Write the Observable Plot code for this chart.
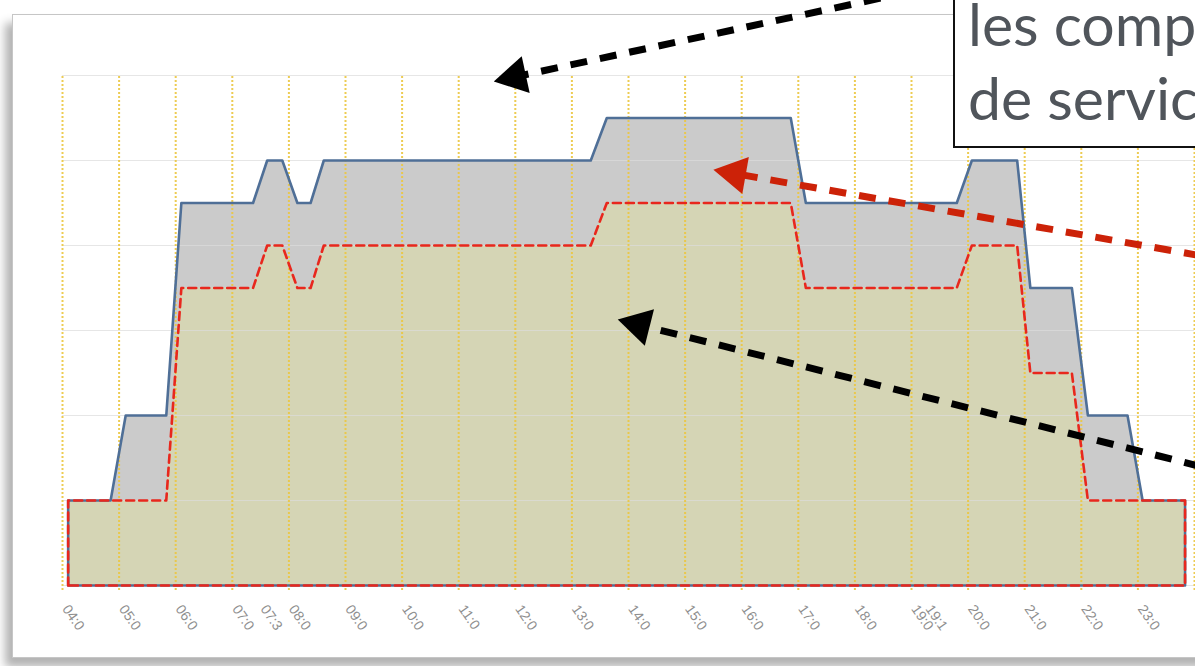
<!DOCTYPE html>
<html>
<head>
<meta charset="utf-8">
<script src="https://cdn.jsdelivr.net/npm/d3@7"></script>
<script src="https://cdn.jsdelivr.net/npm/@observablehq/plot@0.6"></script>
<style>
  html, body { margin: 0; padding: 0; background: #fff; }
  #wrap { position: relative; width: 1195px; height: 666px; overflow: hidden; background: #fff; }
  #frame { position: absolute; left: 12px; top: 14px; width: 1260px; height: 642px;
           border: 1px solid #c6c6c6; background: #fff;
           box-shadow: -7px 9px 9px rgba(0,0,0,0.30); }
  #chart { position: absolute; left: 0; top: 0; }
  #box { position: absolute; left: 953px; top: -20px; width: 420px; height: 164px;
         border: 2px solid #111; background: #fff; }
  #boxtext { position: absolute; left: 968px; top: -13px; font-family: Lato, "Open Sans", sans-serif;
             font-size: 59px; line-height: 74px; color: #50555b; white-space: nowrap; }
</style>
</head>
<body>
<div id="wrap">
  <div id="frame"></div>
  <div id="chart"></div>
  <div id="box"></div>
  <div id="boxtext">les comp<br>de servic</div>
</div>
<script>
// ---- data ----
const times    = ["04:06","04:06","04:51","05:07","05:50","06:06","07:22","07:37","07:53","08:09","08:23","08:37","13:20","13:37","16:52","17:08","19:48","20:04","20:52","21:06","21:50","22:07","22:49","23:05","23:50","23:50"];
const capacity = [0, 1, 1, 2, 2, 4.5, 4.5, 5, 5, 4.5, 4.5, 5, 5, 5.5, 5.5, 4.5, 4.5, 5, 5, 3.5, 3.5, 2, 2, 1, 1, 0];
const usage    = [0, 1, 1, 1, 1, 3.5, 3.5, 4, 4, 3.5, 3.5, 4, 4, 4.5, 4.5, 3.5, 3.5, 4, 4, 2.5, 2.5, 1, 1, 1, 1, 0];

const tickTimes  = ["04:00","05:00","06:00","07:00","07:30","08:00","09:00","10:00","11:00","12:00","13:00","14:00","15:00","16:00","17:00","18:00","19:00","19:15","20:00","21:00","22:00","23:00"];
const tickLabels = ["04:0","05:0","06:0","07:0","07:3","08:0","09:0","10:0","11:0","12:0","13:0","14:0","15:0","16:0","17:0","18:0","19:0","19:1","20:0","21:0","22:0","23:0"];
const gridTimes  = ["04:00","05:00","06:00","07:00","08:00","09:00","10:00","11:00","12:00","13:00","14:00","15:00","16:00","17:00","18:00","19:00","20:00","21:00","22:00","23:00","24:00"];
const levels     = [0, 1, 2, 3, 4, 5, 6];

// annotation arrows (data space: hours, level): start -> tip
const arrowStartX = [18.45, 24.11, 24.11];
const arrowStartY = [6.91, 3.88, 1.40];
const arrowTipX   = [11.62, 15.50, 13.81];
const arrowTipY   = [5.93, 4.89, 3.13];
const arrowKind   = ["black", "red", "black"];

// ---- build ----
const hours = t => { const [h, m] = t.split(":").map(Number); return h + m / 60; };
const capPts = times.map((t, i) => ({x: hours(t), y: capacity[i]}));
const usePts = times.map((t, i) => ({x: hours(t), y: usage[i]}));
const capLine = [...capPts, capPts[0]];
const useLine = [...usePts, usePts[0]];
const tickHours = tickTimes.map(hours);
const labelOf = new Map(tickHours.map((h, i) => [h, tickLabels[i]]));
const gridHours = gridTimes.map(hours);

const xOpt = {domain: [4, 24], range: [62, 1194]};
const yOpt = {domain: [0, 6], range: [585, 75]};
const xs = Plot.scale({x: xOpt});
const ys = Plot.scale({y: yOpt});

const headR = 14;
const tipOff = 2 * headR * Math.sqrt(Math.PI / (3 * Math.sqrt(3)));
const shafts = [], heads = [];
arrowStartX.forEach((_, i) => {
  const x1 = xs.apply(arrowStartX[i]), y1 = ys.apply(arrowStartY[i]);
  const x2 = xs.apply(arrowTipX[i]), y2 = ys.apply(arrowTipY[i]);
  const a = Math.atan2(y2 - y1, x2 - x1);
  const ux = Math.cos(a), uy = Math.sin(a);
  const cx = x2 - ux * tipOff, cy = y2 - uy * tipOff;
  const ex = x2 - ux * (tipOff + 6), ey = y2 - uy * (tipOff + 6);
  shafts.push({x1: arrowStartX[i], y1: arrowStartY[i], x2: xs.invert(ex), y2: ys.invert(ey), kind: arrowKind[i]});
  heads.push({x: xs.invert(cx), y: ys.invert(cy), rot: a * 180 / Math.PI + 90, kind: arrowKind[i]});
});
const colorOf = k => k === "red" ? "#cc2208" : "#000";

const chart = Plot.plot({
  width: 1195,
  height: 666,
  marginLeft: 62, marginRight: 1, marginTop: 75, marginBottom: 81,
  x: {...xOpt, axis: null},
  y: {...yOpt, axis: null},
  style: {background: "transparent", overflow: "visible", fontFamily: "'Liberation Sans', Arial, sans-serif"},
  marks: [
    Plot.areaY(capPts, {x: "x", y: "y", fill: "#cbcbcb"}),
    Plot.areaY(usePts, {x: "x", y: "y", fill: "#d5d5b5"}),
    Plot.ruleY(levels, {stroke: "#dcdcdc", strokeOpacity: 0.7, strokeWidth: 1}),
    Plot.ruleX(gridHours, {y1: -0.06, y2: 6, stroke: "#ebc640", strokeWidth: 2, strokeDasharray: "2,2", strokeOpacity: 0.9}),
    Plot.axisX({ticks: tickHours, tickFormat: d => labelOf.get(d), tickSize: 0, tickPadding: 21, dx: 3, tickRotate: 55, fontSize: 14, color: "#8e8e8e"}),
    Plot.line(capLine, {x: "x", y: "y", stroke: "#4f6f97", strokeWidth: 2.6, strokeLinejoin: "round"}),
    Plot.line(useLine, {x: "x", y: "y", stroke: "#e8271d", strokeWidth: 2.6, strokeDasharray: "8,5"}),
    Plot.link(shafts, {x1: "x1", y1: "y1", x2: "x2", y2: "y2", stroke: d => colorOf(d.kind), strokeWidth: 7, strokeDasharray: "17,13"}),
    Plot.dot(heads, {x: "x", y: "y", symbol: "triangle", r: headR, rotate: "rot", fill: d => colorOf(d.kind), stroke: "none"})
  ]
});
document.getElementById("chart").appendChild(chart);
</script>
</body>
</html>
